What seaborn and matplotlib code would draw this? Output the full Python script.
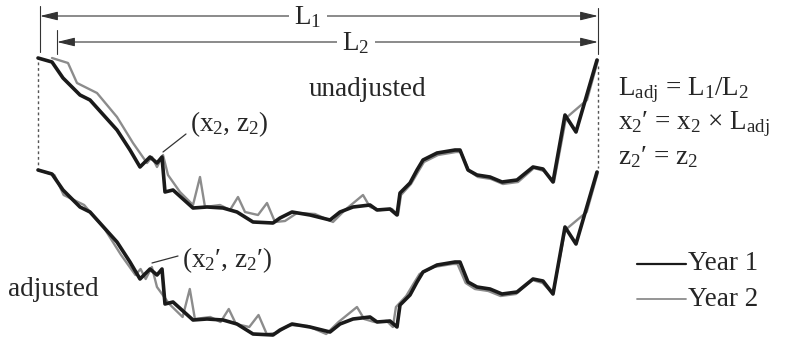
"""Cross-section profile adjustment: Year 1 vs Year 2 (unadjusted / adjusted)."""

import numpy as np
import pandas as pd
import matplotlib
matplotlib.use("Agg")
import matplotlib.pyplot as plt
import seaborn as sns

# Year 1 survey: station (left -> right) and depth below top (drawing units)
year1_x = [38, 52, 63, 80, 90, 117, 130, 140, 150, 157, 162, 165, 173, 193, 207, 223,
           237, 253, 273, 280, 292, 310, 330, 340, 353, 370, 377, 390, 397, 400, 410,
           417, 423, 437, 455, 460, 468, 477, 490, 502, 517, 533, 543, 553, 565, 576, 597]
year1_z = [58, 62, 78, 95, 100, 130, 150, 167, 157, 163, 157, 192, 190, 208, 207, 208,
           212, 222, 223, 218, 212, 215, 220, 212, 207, 205, 210, 209, 215, 193, 183,
           170, 160, 153, 150, 150, 170, 175, 177, 182, 180, 167, 169, 182, 115, 132, 60]

# Year 2 survey (shorter total width L2)
year2_x = [52, 68, 77, 97, 117, 133, 147, 152, 157, 163, 168, 180, 193, 200, 205, 220,
           230, 238, 245, 258, 267, 275, 285, 297, 315, 333, 345, 363, 370, 380, 392,
           398, 401, 411, 418, 424, 438, 456, 461, 469, 478, 491, 503, 518, 534, 544,
           554, 566, 587, 598]
year2_z = [58, 63, 83, 93, 117, 143, 163, 157, 167, 155, 175, 192, 205, 177, 207, 205,
           210, 197, 212, 215, 203, 222, 221, 213, 214, 222, 210, 195, 207, 210, 209,
           215, 195, 184, 172, 162, 155, 152, 152, 171, 177, 179, 184, 182, 168, 171,
           182, 118, 100, 60]

LEFT, RIGHT = 38, 598      # ends of L1
L2_LEFT = 52               # left end of Year 2 section
DROP = 112                 # vertical offset of the "adjusted" copy

L1 = RIGHT - LEFT
L2 = RIGHT - L2_LEFT
L_adj = L1 / L2

x1 = np.array(year1_x, dtype=float)
z1 = np.array(year1_z, dtype=float)
x2 = np.array(year2_x, dtype=float)
z2 = np.array(year2_z, dtype=float)
# stretch Year 2 stations measured from the right bank
x2_adj = RIGHT - (RIGHT - x2) * L_adj

frames = [
    pd.DataFrame({"x": x1, "z": z1, "survey": "Year 1", "panel": "unadjusted"}),
    pd.DataFrame({"x": x2, "z": z2, "survey": "Year 2", "panel": "unadjusted"}),
    pd.DataFrame({"x": x1, "z": z1 + DROP, "survey": "Year 1", "panel": "adjusted"}),
    pd.DataFrame({"x": x2_adj, "z": z2 + DROP, "survey": "Year 2", "panel": "adjusted"}),
]
df = pd.concat(frames, ignore_index=True)

sns.set_theme(style="white")
plt.rcParams["font.family"] = ["Liberation Serif", "DejaVu Serif"]
plt.rcParams["mathtext.fontset"] = "custom"
plt.rcParams["mathtext.rm"] = "Liberation Serif"
plt.rcParams["mathtext.it"] = "Liberation Serif:italic"

fig = plt.figure(figsize=(7.86, 3.40), dpi=100)
ax = fig.add_axes([0, 0, 1, 1])

colors = {"Year 1": "#1a1a1a", "Year 2": "#8c8c8c"}
widths = {"Year 1": 2.6, "Year 2": 1.7}
# gray first, black on top
for survey in ["Year 2", "Year 1"]:
    for panel in ["unadjusted", "adjusted"]:
        sub = df[(df.survey == survey) & (df.panel == panel)]
        sns.lineplot(data=sub, x="x", y="z", sort=False, estimator=None,
                     color=colors[survey], lw=widths[survey], ax=ax,
                     zorder=3 if survey == "Year 1" else 2)

ax.set_xlim(0, 786)
ax.set_ylim(340, 0)
ax.axis("off")

FS = 19.5
lc = "#333333"

# L1 / L2 dimension arrows
arrow = dict(arrowstyle="<|-|>,head_length=0.9,head_width=0.22", color=lc, lw=0.8,
             shrinkA=0, shrinkB=0)
ax.annotate("", xy=(LEFT + 2, 16), xytext=(RIGHT, 16), arrowprops=arrow)
ax.annotate("", xy=(57, 42), xytext=(RIGHT, 42), arrowprops=arrow)
ax.text(308, 17, r"L$_\mathregular{1}$", fontsize=FS, ha="center", va="center",
        bbox=dict(fc="white", ec="none", pad=4))
ax.text(356, 43, r"L$_\mathregular{2}$", fontsize=FS, ha="center", va="center",
        bbox=dict(fc="white", ec="none", pad=4))
ax.plot([40, 40], [6, 52], color=lc, lw=0.8)
ax.plot([57, 57], [30, 54], color=lc, lw=0.8)
ax.plot([RIGHT, RIGHT], [8, 54], color=lc, lw=0.8)

# dashed guides between the two copies
ax.plot([LEFT, LEFT], [62, 168], color="#555555", lw=1.0, ls=(0, (2, 2)))
ax.plot([RIGHT, RIGHT], [66, 168], color="#555555", lw=1.0, ls=(0, (2, 2)))

# labels
ax.text(367, 90, "unadjusted", fontsize=FS, ha="center", va="center")
ax.text(8, 290, "adjusted", fontsize=FS, ha="left", va="center")

ax.plot([163, 186], [152, 134], color=lc, lw=0.9)
ax.text(190, 124, r"(x$_\mathregular{2}$, z$_\mathregular{2}$)", fontsize=FS,
        ha="left", va="center")
ax.plot([152, 178], [263, 256], color=lc, lw=0.9)
ax.text(182, 260, r"(x$_\mathregular{2}$′, z$_\mathregular{2}$′)", fontsize=FS,
        ha="left", va="center")

# equations
ax.text(618, 90, r"L$_\mathregular{adj}$ = L$_\mathregular{1}$/L$_\mathregular{2}$",
        fontsize=FS, ha="left", va="center")
ax.text(618, 124, r"x$_\mathregular{2}$′ = x$_\mathregular{2}$ × L$_\mathregular{adj}$",
        fontsize=FS, ha="left", va="center")
ax.text(618, 157, r"z$_\mathregular{2}$′ = z$_\mathregular{2}$",
        fontsize=FS, ha="left", va="center")

# legend drawn by hand to match the figure
ax.plot([637, 686], [264, 264], color=colors["Year 1"], lw=1.6)
ax.text(688, 264, "Year 1", fontsize=FS, ha="left", va="center")
ax.plot([637, 686], [299, 299], color=colors["Year 2"], lw=1.3)
ax.text(688, 299, "Year 2", fontsize=FS, ha="left", va="center")

fig.savefig("out.png", dpi=100)
